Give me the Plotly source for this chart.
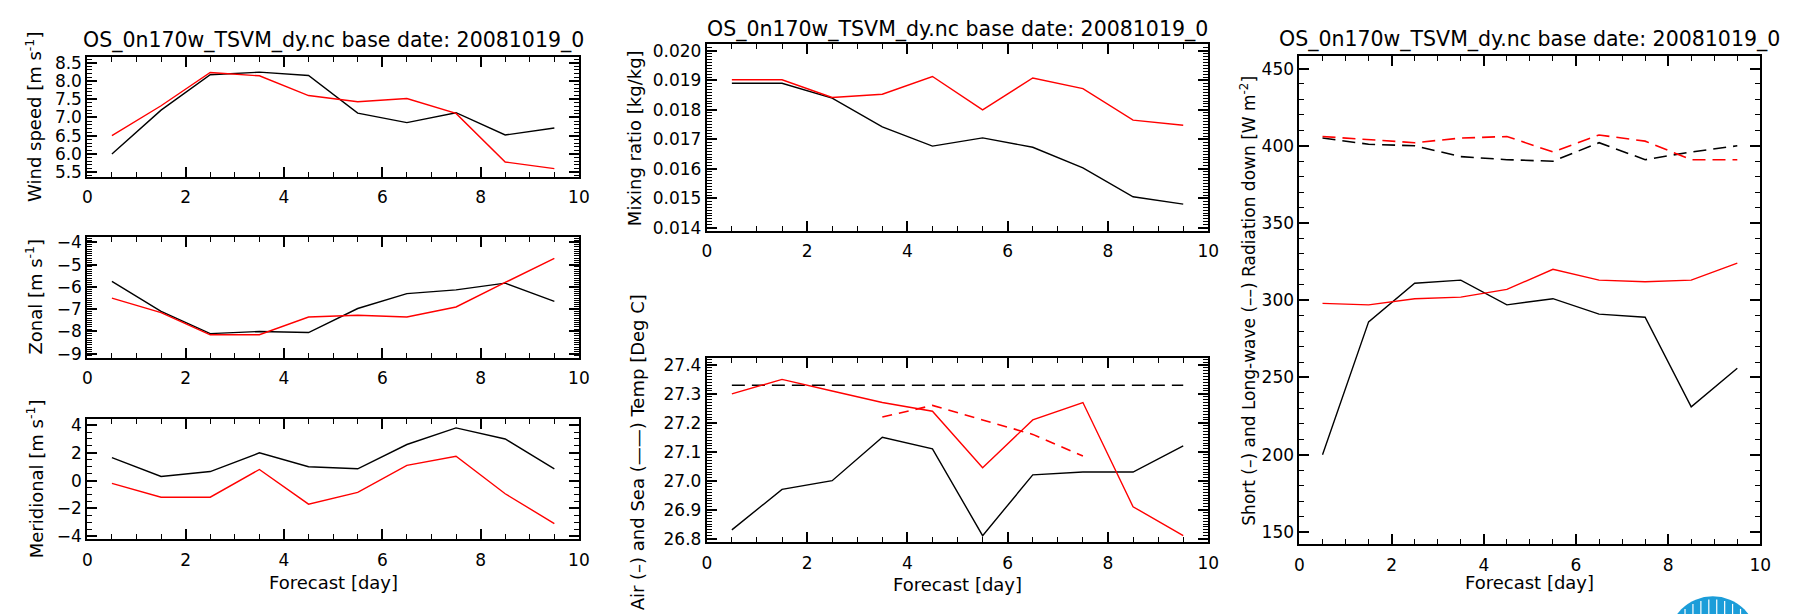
import numpy as np
import plotly.graph_objects as go

# ---------------- data ----------------
days = [0.5, 1.5, 2.5, 3.5, 4.5, 5.5, 6.5, 7.5, 8.5, 9.5]

wind_obs = [6.0, 7.2, 8.17, 8.24, 8.15, 7.12, 6.86, 7.13, 6.52, 6.71]
wind_mod = [6.5, 7.32, 8.23, 8.14, 7.6, 7.43, 7.52, 7.11, 5.78, 5.6]

zonal_obs = [-5.75, -7.1, -8.1, -8.0, -8.05, -6.97, -6.3, -6.13, -5.83, -6.65]
zonal_mod = [-6.5, -7.15, -8.15, -8.15, -7.35, -7.27, -7.35, -6.9, -5.8, -4.72]

merid_obs = [1.65, 0.3, 0.65, 2.0, 1.0, 0.85, 2.6, 3.8, 3.0, 0.85]
merid_mod = [-0.2, -1.2, -1.2, 0.8, -1.7, -0.85, 1.1, 1.75, -0.95, -3.1]

mix_obs = [0.01890, 0.01890, 0.01840, 0.01742, 0.01677, 0.01705, 0.01673, 0.01603, 0.01505, 0.01480]
mix_mod = [0.01902, 0.01902, 0.01842, 0.01853, 0.01913, 0.01800, 0.01908, 0.01872, 0.01765, 0.01748]

air_obs = [26.83, 26.97, 27.0, 27.15, 27.11, 26.81, 27.02, 27.03, 27.03, 27.12]
air_mod = [27.30, 27.35, 27.31, 27.27, 27.24, 27.045, 27.21, 27.27, 26.91, 26.81]
sea_obs = [27.33, 27.33, 27.33, 27.33, 27.33, 27.33, 27.33, 27.33, 27.33, 27.33]
sea_mod = [None, None, None, 27.22, 27.26, 27.21, 27.16, 27.085, None, None]

sw_obs = [200, 286, 311, 313, 297, 301, 291, 289, 231, 256]
sw_mod = [298, 297, 301, 302, 307, 320, 313, 312, 313, 324]
lw_obs = [405, 401, 400, 393, 391, 390, 402, 391, 396, 400]
lw_mod = [406, 404, 402, 405, 406, 396, 407, 403, 391, 391]

title_text = "OS_0n170w_TSVM_dy.nc base date: 20081019_0"

# ---------------- layout helpers ----------------
W, H = 1802, 614
FONT = "DejaVu Sans"


def px_x(a, b):
    return [a / W, b / W]


def px_y(top, bottom):
    return [1 - bottom / H, 1 - top / H]


fig = go.Figure()

panels = [
    # (xpx, ypx, yrange, dtick, minor, fmt)
    ((75, 571), (46, 168), [5.37, 8.65], 0.5, 0.1, ".1f"),
    ((75, 571), (229, 352), [-9.18, -3.75], 1, 0.1, "d"),
    ((75, 571), (414, 537), [-4.24, 4.47], 2, 0.5, "d"),
    ((700, 1206), (33, 223), [0.01389, 0.02022], 0.001, 0.0001, ".3f"),
    ((700, 1206), (352, 540), [26.787, 27.425], 0.1, 0.01, ".1f"),
    ((1298, 1763), (45, 542), [142, 458], 50, 10, "d"),
]

for i, (xp, yp, yr, dt, mdt, fmt) in enumerate(panels):
    n = "" if i == 0 else str(i + 1)
    common = dict(
        showline=True, linewidth=2, linecolor="black", mirror="allticks",
        ticks="inside", ticklen=10, tickwidth=1.6, tickcolor="black",
        showgrid=False, zeroline=False,
        tickfont=dict(family=FONT, size=17, color="black"),
    )
    fig.layout["xaxis" + n] = dict(
        domain=px_x(*xp), anchor="y" + n, range=[0, 10], dtick=2, tick0=0,
        minor=dict(ticks="inside", ticklen=5, dtick=0.5, tickwidth=1.4, tickcolor="black", showgrid=False),
        ticklabelstandoff=4, **common)
    fig.layout["yaxis" + n] = dict(
        domain=px_y(*yp), anchor="x" + n, range=yr, dtick=dt, tick0=0,
        tickformat=fmt,
        minor=dict(ticks="inside", ticklen=5, dtick=mdt, tickwidth=1.2, tickcolor="black", showgrid=False),
        **common)


def add(idx, y, color, dash="solid", width=1.4):
    n = "" if idx == 0 else str(idx + 1)
    fig.add_trace(go.Scatter(
        x=days, y=y, mode="lines", xaxis="x" + n, yaxis="y" + n,
        line=dict(color=color, width=width, dash=dash),
        showlegend=False, hoverinfo="skip", connectgaps=False))


RED = "#ff0000"
add(0, wind_obs, "black"); add(0, wind_mod, RED)
add(1, zonal_obs, "black"); add(1, zonal_mod, RED)
add(2, merid_obs, "black"); add(2, merid_mod, RED)
add(3, mix_obs, "black"); add(3, mix_mod, RED)
add(4, sea_obs, "black", "13px,7px", 1.6); add(4, sea_mod, RED, "10px,7px", 1.6)
add(4, air_obs, "black"); add(4, air_mod, RED)
add(5, lw_obs, "black", "13px,7px", 1.6); add(5, lw_mod, RED, "13px,7px", 1.6)
add(5, sw_obs, "black"); add(5, sw_mod, RED)

ann = []
# titles
for cx, cy in [(323, 29), (953, 18), (1530, 28)]:
    ann.append(dict(text=title_text, x=cx / W, y=1 - cy / H, xref="paper", yref="paper",
                    showarrow=False, xanchor="center", yanchor="middle",
                    font=dict(family=FONT, size=20.5, color="black")))
# x titles
for cx, cy in [(323, 581), (953, 583), (1530, 581)]:
    ann.append(dict(text="Forecast [day]", x=cx / W, y=1 - cy / H, xref="paper", yref="paper",
                    showarrow=False, xanchor="center", yanchor="middle",
                    font=dict(family=FONT, size=18, color="black")))
# y titles
ytitles = [
    ("Wind speed [m s<sup>-1</sup>]", 21, 107, 18),
    ("Zonal [m s<sup>-1</sup>]", 21, 290, 18),
    ("Meridional [m s<sup>-1</sup>]", 23, 475, 18),
    ("Mixing ratio [kg/kg]", 627, 128, 18),
    ("Air (–) and Sea (——) Temp [Deg C]", 631, 448, 18),
    ("Short (–) and Long-wave (––) Radiation down [W m<sup>-2</sup>]", 1246, 294, 17),
]
for t, cx, cy, fs in ytitles:
    ann.append(dict(text=t, x=cx / W, y=1 - cy / H, xref="paper", yref="paper",
                    showarrow=False, xanchor="center", yanchor="middle", textangle=-90,
                    font=dict(family=FONT, size=fs, color="black")))

# partial logo in the bottom-right corner
cx, cy, r = 1715, 640, 45
shapes = [dict(type="circle", xref="paper", yref="paper",
               x0=(cx - r) / W, x1=(cx + r) / W, y0=1 - (cy + r) / H, y1=1 - (cy - r) / H,
               fillcolor="#1b9dd9", line=dict(width=0))]
for sx in range(cx - 36, cx + 40, 8):
    top = cy - np.sqrt(max(r * r - (sx - cx) ** 2, 0)) + 3
    shapes.append(dict(type="line", xref="paper", yref="paper",
                       x0=sx / W, x1=sx / W, y0=1 - top / H, y1=0,
                       line=dict(color="white", width=1.2)))

fig.update_layout(
    width=W, height=H, margin=dict(l=0, r=0, t=0, b=0),
    paper_bgcolor="white", plot_bgcolor="white",
    annotations=ann, shapes=shapes, showlegend=False,
    font=dict(family=FONT, color="black"),
)

fig.write_html("out.html")
